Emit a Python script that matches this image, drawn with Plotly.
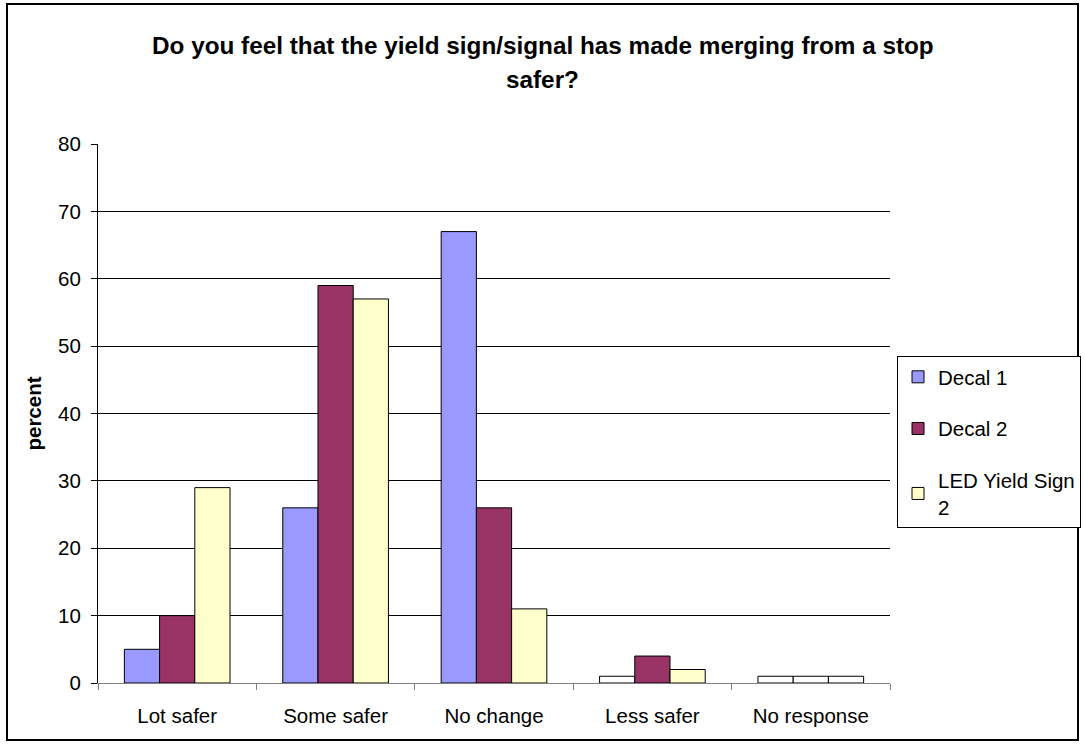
import plotly.graph_objects as go

categories = ["Lot safer", "Some safer", "No change", "Less safer", "No response"]
decal1 = [5, 26, 67, 1, 1]
decal2 = [10, 59, 26, 4, 1]
led2 = [29, 57, 11, 2, 1]
series_names = ["Decal 1", "Decal 2", "LED Yield Sign<br>2"]

# style: base colors, with the one-unit bars drawn white as in the reference
base_colors = ["#9999FF", "#993366", "#FFFFCC"]
fill1 = [base_colors[0]] * 3 + ["#FFFFFF", "#FFFFFF"]
fill2 = [base_colors[1]] * 4 + ["#FFFFFF"]
fill3 = [base_colors[2]] * 4 + ["#FFFFFF"]

FONT = "Liberation Sans, Arial, sans-serif"
W, H = 1085, 744
L, R, T, B = 98, 195, 144, 61
pw, ph = W - L - R, H - T - B

fig = go.Figure()
for i, (name, vals, fills) in enumerate(zip(series_names, [decal1, decal2, led2], [fill1, fill2, fill3])):
    fig.add_trace(go.Bar(
        x=categories, y=vals, name=name,
        marker=dict(color=fills, line=dict(color="black", width=1)),
        legendgroup=str(i),
    ))

def px_x(p):
    return (p - L) / pw

def px_y(p):
    return (H - B - p) / ph

fig.update_layout(
    width=W, height=H,
    margin=dict(l=L, r=R, t=T, b=B, autoexpand=False),
    paper_bgcolor="white", plot_bgcolor="white",
    font=dict(family=FONT, size=20.5, color="black"),
    barmode="group", bargap=0.333, bargroupgap=0,
    showlegend=True,
    legend=dict(
        x=px_x(897), y=px_y(356), xanchor="left", yanchor="top",
        bordercolor="black", borderwidth=1, bgcolor="white",
        font=dict(family=FONT, size=20.5, color="black"),
        tracegroupgap=22, traceorder="grouped",
        itemwidth=30,
    ),
    xaxis=dict(
        showline=True, linecolor="#808080", linewidth=1,
        ticks="outside", ticklen=6, tickcolor="#808080", tickson="boundaries",
        showgrid=False, zeroline=False,
        ticklabelstandoff=14,
        tickfont=dict(family=FONT, size=20.5, color="black"),
        fixedrange=True,
    ),
    yaxis=dict(
        range=[0, 80], dtick=10, tick0=0,
        showline=True, linecolor="black", linewidth=1,
        ticks="outside", ticklen=6, tickcolor="black",
        showgrid=True, gridcolor="black", gridwidth=1,
        zeroline=False,
        ticklabelstandoff=6,
        tickfont=dict(family=FONT, size=20.5, color="black"),
        title=dict(text="<b>percent</b>", font=dict(family=FONT, size=20.5, color="black"), standoff=10),
        fixedrange=True,
    ),
    annotations=[
        dict(text="<b>Do you feel that the yield sign/signal has made merging from a stop</b>",
             xref="paper", yref="paper", x=px_x(W / 2), y=px_y(46), xanchor="center", yanchor="middle",
             showarrow=False, font=dict(family=FONT, size=24.3, color="black")),
        dict(text="<b>safer?</b>",
             xref="paper", yref="paper", x=px_x(W / 2), y=px_y(80), xanchor="center", yanchor="middle",
             showarrow=False, font=dict(family=FONT, size=24.3, color="black")),
    ],
    shapes=[
        dict(type="rect", xref="paper", yref="paper",
             x0=px_x(7), x1=px_x(1078), y0=px_y(4), y1=px_y(740),
             line=dict(color="black", width=2), fillcolor="rgba(0,0,0,0)", layer="above"),
    ],
)

fig.write_html("out.html", config={"displayModeBar": False},
               post_script="document.body.style.margin='0px';")
